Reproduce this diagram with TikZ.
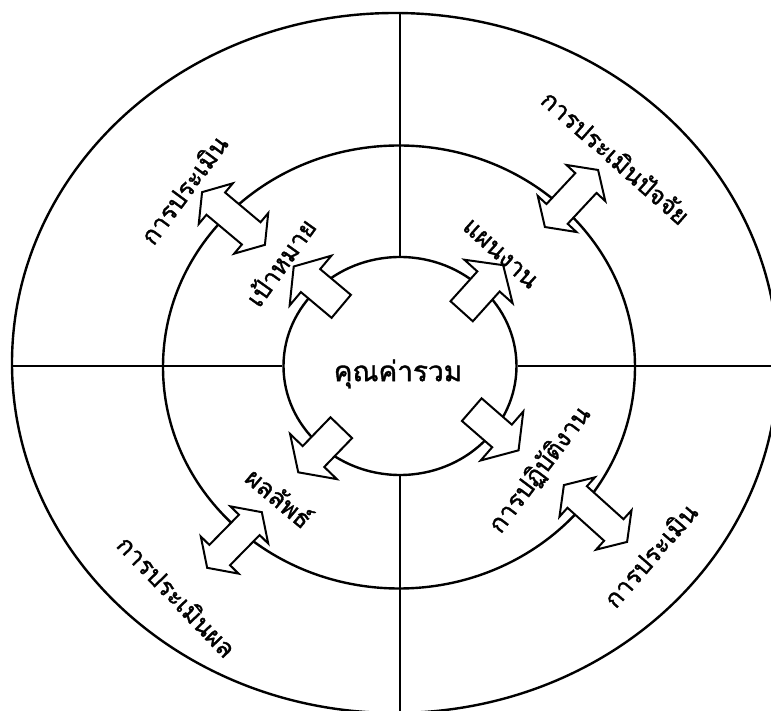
\documentclass[tikz,border=0pt]{standalone}
\usepackage{fontspec}
\newfontfamily\thaifont[Script=Thai,FakeBold=1.4]{Loma}
\usetikzlibrary{shapes.geometric,shapes.arrows}
\tikzset{
  ring/.style={ellipse, draw, line width=2.4pt, inner sep=0pt},
  divider/.style={line width=1.1pt},
  oneway/.style={single arrow, draw, fill=white, line width=2pt, inner sep=14pt,
    minimum height=62pt, single arrow head extend=17.5pt, single arrow tip angle=112, anchor=tail},
  twoway/.style={double arrow, draw, fill=white, line width=2pt, inner sep=13.5pt,
    double arrow head extend=12pt, double arrow tip angle=112},
  ringtext/.style={font=\thaifont\fontsize{25}{27}\selectfont, inner sep=0pt}
}
\begin{document}
\begin{tikzpicture}[x=1pt,y=1pt]
  \useasboundingbox (-400,-346) rectangle (371,365);
  \node[ring, minimum width=766pt, minimum height=700pt] (outer) at (-5,2) {};
  \node[ring, minimum width=472pt, minimum height=443pt] (middle) at (-1,-2) {};
  \node[ring, minimum width=233pt, minimum height=218pt] (inner) at (0,-1) {};
  \draw[divider] (inner.north) -- (inner.north |- outer.north);
  \draw[divider] (inner.south) -- (inner.south |- outer.south);
  \draw[divider] (inner.west) -- (inner.west -| outer.west);
  \draw[divider] (inner.east) -- (inner.east -| outer.east);
  % arrows out of the centre
  \foreach \x/\y/\a [count=\i] in {-58/58/140, 61/53/48, -58/-62/226, 71/-44/-41}
    { \node[oneway, rotate=\a] (out\i) at (\x,\y) {}; }
  % arrows across the middle ring
  \foreach \x/\y/\a/\l [count=\i] in {-166.5/146.5/140/82, 171.5/166.5/47/78, -165.5/-175/45.5/78, 195.5/-148.5/-42/85}
    { \node[twoway, rotate=\a, minimum height=\l pt] (cross\i) at (\x,\y) {}; }
  \node[font=\thaifont\fontsize{28}{30}\selectfont] (value) at (-2,-9) {คุณค่ารวม};
  \node[ringtext, rotate=53.5] (goaleval) at (-216.5,175.5) {การประเมิน};
  \node[ringtext, rotate=54.5] (goal) at (-120,103) {เป้าหมาย};
  \node[ringtext, rotate=-41.5] (inputeval) at (216,208) {การประเมินปัจจัย};
  \node[ringtext, rotate=-42] (plan) at (100,111) {แผนงาน};
  \node[ringtext, rotate=-40] (result) at (-120,-132) {ผลลัพธ์};
  \node[ringtext, rotate=-46] (resulteval) at (-223,-231) {การประเมินผล};
  \node[ringtext, rotate=53] (work) at (140,-105) {การปฏิบัติงาน};
  \node[ringtext, rotate=49] (workeval) at (250,-190) {การประเมิน};
\end{tikzpicture}
\end{document}
